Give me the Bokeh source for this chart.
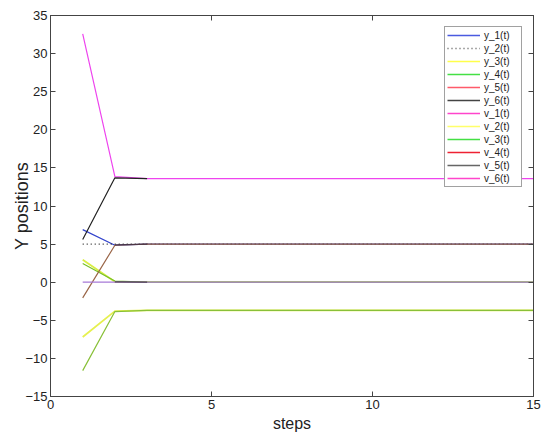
from bokeh.plotting import figure
from bokeh.models import LinearAxis, FixedTicker, Legend, LegendItem, Range1d
from bokeh.embed import file_html
from bokeh.resources import INLINE

# ---- data ----
steps = [1, 2, 3, 4, 5, 6, 7, 8, 9, 10, 11, 12, 13, 14, 15]
short_steps = [1, 2, 3]
tail_steps = [2, 3]

y_1 = [6.9, 4.85, 5.0, 5.0, 5.0, 5.0, 5.0, 5.0, 5.0, 5.0, 5.0, 5.0, 5.0, 5.0, 5.0]
y_2 = [5.0, 5.0, 5.0, 5.0, 5.0, 5.0, 5.0, 5.0, 5.0, 5.0, 5.0, 5.0, 5.0, 5.0, 5.0]
y_3 = [2.95, 0.05, 0.0, 0.0, 0.0, 0.0, 0.0, 0.0, 0.0, 0.0, 0.0, 0.0, 0.0, 0.0, 0.0]
y_4 = [2.45, 0.15, 0.0, 0.0, 0.0, 0.0, 0.0, 0.0, 0.0, 0.0, 0.0, 0.0, 0.0, 0.0, 0.0]
y_5 = [-2.05, 4.85, 5.0, 5.0, 5.0, 5.0, 5.0, 5.0, 5.0, 5.0, 5.0, 5.0, 5.0, 5.0, 5.0]
y_6 = [5.6, 13.7, 13.6]
v_1 = [32.6, 13.85, 13.6, 13.6, 13.6, 13.6, 13.6, 13.6, 13.6, 13.6, 13.6, 13.6, 13.6, 13.6, 13.6]
v_2 = [-7.2, -3.8, -3.7, -3.7, -3.7, -3.7, -3.7, -3.7, -3.7, -3.7, -3.7, -3.7, -3.7, -3.7, -3.7]
v_3 = [-11.6, -3.85, -3.7, -3.7, -3.7, -3.7, -3.7, -3.7, -3.7, -3.7, -3.7, -3.7, -3.7, -3.7, -3.7]
v_4 = [0.0, 0.0, 0.0, 0.0, 0.0, 0.0, 0.0, 0.0, 0.0, 0.0, 0.0, 0.0, 0.0, 0.0, 0.0]
v_5a = [4.9, 5.0]
v_5b = [0.05, 0.0]

legend_labels = ["y_1(t)", "y_2(t)", "y_3(t)", "y_4(t)", "y_5(t)", "y_6(t)",
                 "v_1(t)", "v_2(t)", "v_3(t)", "v_4(t)", "v_5(t)", "v_6(t)"]
legend_colors = ["#4a5ae0", "#555555", "#ffff4a", "#44e044", "#ff5a6a", "#444444",
                 "#ff44cc", "#ffff6a", "#44e044", "#ee2233", "#666666", "#ff44cc"]
legend_dashes = ["solid", "1 3", "solid", "solid", "solid", "solid",
                 "solid", "solid", "solid", "solid", "solid", "solid"]
# off-range points used only so the legend proxies carry a glyph
proxy_x = [-10, -9]
proxy_y = [0, 0]

x_ticks = [0, 5, 10, 15]
y_ticks = [-15, -10, -5, 0, 5, 10, 15, 20, 25, 30, 35]

FONT = "Liberation Sans"

p = figure(output_backend="svg", toolbar_location=None,
           frame_width=483, frame_height=381,
           x_range=Range1d(0, 15), y_range=Range1d(-15, 35),
           min_border_left=50, min_border_top=15, min_border_right=17, min_border_bottom=43,
           x_axis_label="steps", y_axis_label="Y positions")
p.grid.visible = False
p.outline_line_color = "#444444"
p.background_fill_color = "white"
p.border_fill_color = "white"

for ax in p.xaxis:
    ax.ticker = FixedTicker(ticks=x_ticks)
    ax.axis_label_text_font_size = "16px"
    ax.axis_label_standoff = 3
for ax in p.yaxis:
    ax.ticker = FixedTicker(ticks=y_ticks)
    ax.axis_label_text_font_size = "18px"
    ax.axis_label_standoff = -10
for ax in p.xaxis + p.yaxis:
    ax.major_tick_in = 5
    ax.major_tick_out = 0
    ax.minor_tick_line_color = None
    ax.axis_line_color = "#444444"
    ax.major_tick_line_color = "#444444"
    ax.major_label_text_font = FONT
    ax.major_label_text_font_size = "13px"
    ax.major_label_text_color = "#222222"
    ax.axis_label_text_font = FONT
    ax.axis_label_text_font_style = "normal"
    ax.axis_label_text_color = "#222222"
    ax.major_label_standoff = 3

# mirrored ticks on top / right (labels not drawn)
top = LinearAxis(ticker=FixedTicker(ticks=x_ticks), major_tick_in=5, major_tick_out=0,
                 minor_tick_line_color=None, axis_line_color="#444444",
                 major_tick_line_color="#444444", major_label_text_font_size="1px",
                 major_label_text_color=None, major_label_standoff=0)
right = LinearAxis(ticker=FixedTicker(ticks=y_ticks), major_tick_in=5, major_tick_out=0,
                   minor_tick_line_color=None, axis_line_color="#444444",
                   major_tick_line_color="#444444", major_label_text_font_size="1px",
                   major_label_text_color=None, major_label_standoff=0)
p.add_layout(top, "above")
p.add_layout(right, "right")

lw = 1.2
p.line(steps, y_1, line_color="#3344cc", line_width=lw)
p.line(steps, y_2, line_color="#222222", line_width=lw, line_dash="1 3")
p.line(steps, y_3, line_color="#d8ee44", line_width=lw + 0.6)
p.line(steps, y_4, line_color="#77c028", line_width=lw)
p.line(steps, y_5, line_color="#9a6648", line_width=lw)
p.line(steps, v_4, line_color="#a77ad8", line_width=lw)
p.line(steps, v_2, line_color="#e6f050", line_width=lw + 0.6)
p.line(steps, v_3, line_color="#88c038", line_width=lw)
p.line(steps, v_1, line_color="#ee44ee", line_width=lw)
p.line(short_steps, y_6, line_color="#222222", line_width=lw)
p.line(tail_steps, v_5a, line_color="#3a2a44", line_width=lw, line_alpha=0.8)
p.line(tail_steps, v_5b, line_color="#3a2a44", line_width=lw, line_alpha=0.8)

# legend (proxy renderers carrying the legend styles)
items = []
for lab, col, dash in zip(legend_labels, legend_colors, legend_dashes):
    r = p.line(x=proxy_x, y=proxy_y, line_color=col, line_width=1.5, line_dash=dash)
    items.append(LegendItem(label=lab, renderers=[r]))

legend = Legend(items=items, location="top_right",
                label_text_font=FONT, label_text_font_size="10px",
                label_text_color="#222222",
                glyph_width=33, glyph_height=12, label_height=12, label_width=35,
                spacing=1, label_standoff=4, padding=2, margin=11,
                border_line_color="#444444", border_line_width=1,
                background_fill_color="white", background_fill_alpha=1.0)
p.add_layout(legend, "center")

open("out.html", "w").write(file_html(p, INLINE))
